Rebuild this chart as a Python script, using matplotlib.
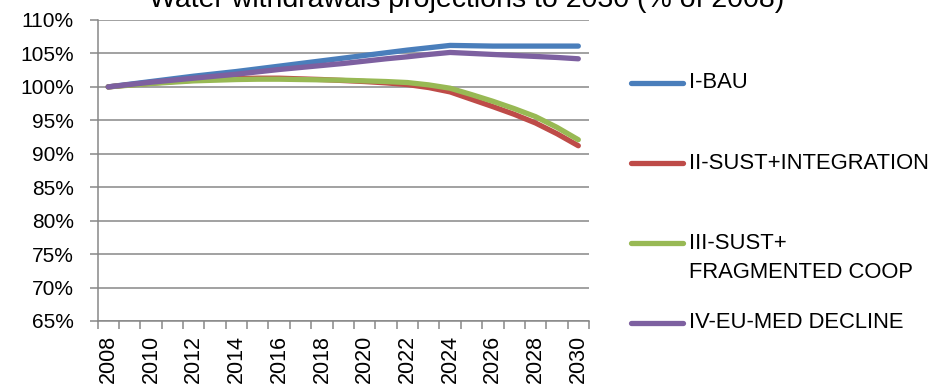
import numpy as np
import matplotlib
matplotlib.use("Agg")
import matplotlib.pyplot as plt
from matplotlib.lines import Line2D
from matplotlib.ticker import FuncFormatter

plt.rcParams['font.family'] = ['Liberation Sans', 'DejaVu Sans']

years = list(range(2008, 2031))
year_labels = [str(y) if (y - 2008) % 2 == 0 else '' for y in years]

bau = [100, 100.4, 100.8, 101.2, 101.6, 101.95, 102.3, 102.7, 103.1, 103.5, 103.9, 104.3,
       104.7, 105.1, 105.5, 105.85, 106.2, 106.15, 106.1, 106.1, 106.1, 106.1, 106.1]
sust_int = [100, 100.3, 100.55, 100.8, 101.0, 101.15, 101.25, 101.3, 101.3, 101.2, 101.1, 100.95,
            100.8, 100.6, 100.35, 99.9, 99.25, 98.15, 97.05, 95.9, 94.6, 93.0, 91.2]
sust_frag = [100, 100.25, 100.5, 100.7, 100.9, 101.0, 101.1, 101.15, 101.15, 101.1, 101.05, 101.0,
             100.9, 100.8, 100.65, 100.3, 99.8, 98.85, 97.85, 96.75, 95.55, 93.95, 92.1]
eu_med = [100, 100.35, 100.7, 101.0, 101.3, 101.6, 101.9, 102.25, 102.6, 102.9, 103.2, 103.5,
          103.85, 104.2, 104.5, 104.85, 105.15, 105.0, 104.85, 104.7, 104.55, 104.4, 104.2]

names = ['I-BAU', 'II-SUST+INTEGRATION', 'III-SUST+\nFRAGMENTED COOP', 'IV-EU-MED DECLINE']
colors = ['#4A7EBB', '#BE4B48', '#98B954', '#7D60A0']
series = [bau, sust_int, sust_frag, eu_med]

fig = plt.figure(figsize=(9.31, 3.92), dpi=100)
ax = fig.add_axes([97.5/931, 1 - 321/392, (589 - 97.5)/931, 301/392])

x = np.arange(len(years))
for vals, c in zip(series, colors):
    ax.plot(x, vals, color=c, lw=3.8, solid_capstyle='round', solid_joinstyle='round')

grid_c = '#878787'
ax.set_xlim(-0.5, len(years) - 0.5)
ax.set_ylim(65, 110)
ax.set_yticks(np.arange(65, 111, 5))
ax.yaxis.set_major_formatter(FuncFormatter(lambda v, p: '%d%%' % v))
ax.grid(axis='y', color=grid_c, lw=1.1)
ax.set_axisbelow(True)

ax.set_xticks(x)
ax.set_xticklabels(year_labels, rotation=90)
ax.set_xticks(np.arange(-0.5, len(years)), minor=True)
ax.tick_params(axis='x', which='major', length=0, pad=10, labelsize=15.5)
ax.tick_params(axis='x', which='minor', length=5.5, width=1.1, color=grid_c, direction='out')
ax.tick_params(axis='y', length=6, width=1.1, color=grid_c, pad=11, labelsize=15)

for s in ['top', 'right']:
    ax.spines[s].set_visible(False)
for s in ['left', 'bottom']:
    ax.spines[s].set_color(grid_c)
    ax.spines[s].set_linewidth(1.1)

fig.text(467/931, 1 - 7/392, 'Water withdrawals projections to 2030 (% of 2008)',
         ha='center', va='baseline', fontsize=20.5)

# legend on the right, handle next to the first line of each label
leg_y = [83, 163, 243, 323]
for name, c, yy in zip(names, colors, leg_y):
    yf = 1 - yy/392
    fig.add_artist(Line2D([631/931, 683/931], [yf, yf], color=c, lw=3.8,
                          solid_capstyle='round'))
    if '\n' in name:
        fig.text(689/931, yf + 10/392, name, ha='left', va='top', fontsize=15.8,
                 linespacing=1.5)
    else:
        fig.text(689/931, yf, name, ha='left', va='center', fontsize=15.8)

fig.savefig('out.png', dpi=100)
